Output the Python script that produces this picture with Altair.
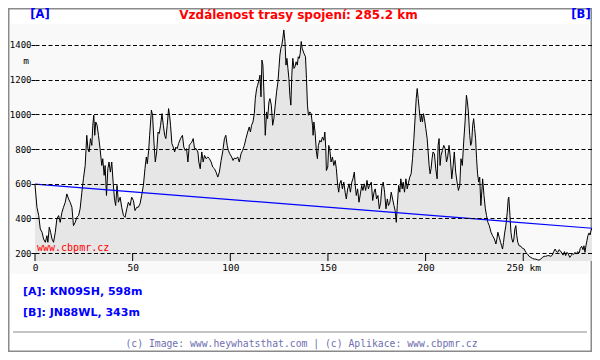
import altair as alt
import pandas as pd

# ---- profile data (km along path, elevation in m) ----
km_1 = [0, 1.0, 1.9, 2.7, 3.6, 4.4, 5.3, 6.1, 6.6, 7.3, 8.0, 8.7, 9.5, 10.4, 11.2, 12.1, 12.9, 13.8, 14.6, 15.5,
        16.3, 17.2, 18.0, 18.9, 19.7, 20.6, 21.4, 22.3, 23.1, 24.0, 24.8, 25.7, 26.5, 27.1, 27.7, 28.4, 29.1, 29.6,
        30.1, 30.6, 31.1, 31.8, 32.5, 33.3, 34.2, 34.7, 35.4, 35.9, 36.6, 37.3, 37.9, 38.6, 39.3, 40.0, 40.7, 41.3,
        42.0, 42.7, 43.6, 44.4, 45.3, 46.1, 47.0, 47.8, 48.7, 49.5, 50.4, 51.2, 52.1, 52.9, 53.8, 54.6, 55.5, 56.3, 57.0]
elev_1 = [593, 464, 416, 339, 320, 281, 262, 300, 262, 349, 320, 281, 262, 320, 397, 416, 377, 435, 464, 493,
          541, 512, 493, 464, 358, 377, 406, 416, 455, 551, 628, 705, 879, 802, 783, 860, 821, 937,
          995, 879, 956, 937, 879, 802, 705, 744, 648, 705, 532, 686, 725, 667, 725, 609, 512, 474,
          590, 493, 522, 464, 416, 406, 455, 493, 474, 522, 503, 445, 464, 464, 484, 532, 590, 686, 754]

km_2 = [57.5, 58.2, 58.7, 59.6, 60.2, 60.9, 61.6, 62.3, 63.0, 63.6, 64.3, 65.0, 65.7, 66.4, 67.0, 67.7, 68.4, 68.9,
        69.4, 70.1, 70.8, 71.5, 72.1, 72.8, 73.5, 74.5, 75.5, 76.2, 76.9, 77.6, 78.3, 79.0, 79.6, 80.3, 81.0, 81.7,
        82.5, 83.4, 83.9, 84.6, 85.4, 86.1, 86.8, 87.6, 88.5, 89.3, 90.2, 91.0, 91.9, 92.7, 93.6, 94.4, 95.3, 96.1,
        97.0, 97.7, 98.4, 99.0, 99.7, 100.7, 101.4, 102.1, 102.9, 103.8, 104.6, 105.5, 106.3, 107.2, 108.0, 108.9,
        109.7, 110.3, 110.9, 111.6, 112.3, 112.8, 113.5, 114.0, 114.7]
elev_2 = [715, 792, 879, 1024, 995, 840, 725, 783, 898, 889, 937, 1004, 937, 879, 860, 937, 1033, 995,
          937, 831, 811, 783, 811, 802, 831, 860, 879, 811, 792, 802, 725, 821, 831, 840, 860, 802,
          802, 783, 725, 686, 783, 725, 763, 744, 754, 744, 725, 696, 686, 667, 638, 667, 734, 783,
          860, 879, 821, 792, 773, 754, 734, 748, 744, 754, 725, 773, 792, 821, 860, 898,
          927, 898, 937, 956, 1004, 1091, 1149, 1168, 1197]

km_3 = [115.2, 115.7, 116.2, 116.7, 117.2, 117.9, 118.6, 119.1, 119.8, 120.3, 121.0, 121.7, 122.3, 123.0, 123.7,
        124.4, 124.9, 125.4, 125.9, 126.4, 126.9, 127.4, 128.0, 128.5, 129.0, 129.5, 130.0, 130.5, 131.0, 131.5,
        132.0, 132.6, 133.1, 133.7, 134.3, 134.8, 135.3, 135.8, 136.3, 136.8, 137.7, 138.5, 139.0, 139.5, 140.0,
        140.7, 141.4, 142.1, 142.4, 142.8, 143.4, 144.1, 144.6, 145.1, 145.8, 146.5, 147.2, 147.9, 148.4, 148.9,
        149.2, 149.9, 150.4, 150.9, 151.6, 152.3, 153.0, 153.7, 154.3, 155.0, 155.5, 156.0, 156.7, 157.4, 158.1,
        158.8, 159.4, 160.1, 160.8, 161.5, 162.2, 162.8, 163.5, 164.0, 164.5, 165.2, 165.9, 166.6, 167.3, 167.9,
        168.6, 169.3, 170.0, 170.7, 171.3]
elev_3 = [1226, 1101, 1313, 1284, 1130, 879, 1014, 975, 1072, 1091, 1053, 937, 975, 1053, 1130,
          1188, 1265, 1342, 1381, 1400, 1439, 1487, 1420, 1284, 1323, 1265, 1207, 1110, 1053, 1226,
          1323, 1265, 1274, 1303, 1284, 1332, 1323, 1352, 1420, 1381, 1352, 1332, 1207, 1053, 995,
          1014, 1004, 937, 879, 956, 898, 783, 744, 821, 850, 840, 869, 850, 898, 802,
          676, 696, 821, 802, 725, 754, 705, 734, 686, 590, 551, 599, 619, 570, 609,
          551, 512, 570, 599, 551, 609, 628, 667, 590, 532, 570, 493, 541, 590, 561,
          599, 561, 619, 570, 590]

km_4 = [172.2, 172.9, 173.6, 174.2, 174.9, 175.6, 176.3, 177.0, 177.6, 178.3, 179.0, 179.7, 180.4, 181.0, 181.7,
        182.4, 183.1, 183.8, 184.4, 185.0, 185.5, 186.2, 186.8, 187.3, 188.0, 188.5, 189.2, 189.9, 190.6, 191.3,
        191.9, 192.6, 193.3, 194.0, 194.7, 195.2, 195.7, 196.2, 196.7, 197.4, 197.9, 198.4, 198.9, 199.4, 200.1,
        200.8, 201.3, 201.8, 202.3, 202.8, 203.3, 203.8, 204.5, 205.2, 205.9, 206.4, 206.9, 207.4, 207.9, 208.6,
        209.3, 210.0, 210.7, 211.3, 212.0, 212.7, 213.4, 214.1, 214.7, 215.4, 216.1, 216.8, 217.5, 218.1, 218.8,
        219.5, 220.2, 220.9, 221.4, 221.9, 222.6, 223.1, 223.6, 224.1, 224.6, 225.1, 225.6, 226.1, 226.6, 227.2,
        227.7, 228.3]
elev_4 = [609, 503, 551, 570, 512, 532, 455, 493, 580, 609, 551, 455, 512, 474, 493,
          551, 512, 474, 445, 377, 474, 590, 551, 628, 570, 609, 551, 628, 570, 609,
          638, 657, 744, 860, 995, 1091, 1149, 1091, 1033, 956, 995, 956, 1004, 975, 918,
          860, 783, 705, 657, 686, 744, 783, 773, 686, 628, 821, 860, 705, 763, 792,
          821, 802, 725, 754, 821, 744, 628, 705, 783, 667, 609, 561, 590, 744, 705,
          840, 956, 1110, 1072, 1014, 879, 821, 840, 937, 975, 918, 860, 744, 657, 609,
          638, 474]

km_5 = [229.2, 229.9, 230.6, 231.2, 231.9, 232.6, 233.5, 234.3, 235.2, 236.0, 236.5, 237.0, 237.7, 238.4, 238.9,
        239.4, 239.9, 240.4, 241.1, 241.8, 242.3, 242.6, 243.2, 243.7, 244.2, 244.7, 245.2, 245.7, 246.2, 246.7,
        247.2, 247.9, 248.8, 249.6, 250.5, 251.3, 252.2, 253.0, 253.9, 254.7, 255.6, 256.4, 257.3, 258.1, 259.0,
        259.8, 260.7, 261.5, 262.4, 263.2, 264.1, 264.9, 265.6, 266.3, 267.0, 267.7, 268.3, 269.0, 269.7, 270.4,
        271.1, 271.7, 272.4, 273.1, 273.8, 274.5, 275.1, 275.8, 276.5, 277.2, 277.9, 278.6, 279.2, 279.9, 280.6,
        281.1, 281.6, 282.1, 282.6, 283.1, 283.7, 284.2, 284.7, 285.2]
elev_5 = [628, 532, 455, 416, 377, 358, 320, 300, 281, 252, 281, 320, 291, 262, 242,
          223, 262, 310, 358, 435, 512, 522, 416, 320, 281, 262, 281, 339, 358, 300,
          262, 242, 239, 227, 223, 204, 194, 181, 175, 169, 165, 165, 161, 159, 165,
          175, 181, 181, 185, 185, 181, 188, 208, 223, 208, 204, 219, 213, 200, 188,
          208, 185, 204, 194, 175, 185, 196, 192, 204, 194, 208, 200, 227, 239, 219,
          242, 204, 242, 271, 300, 316, 304, 329, 343]

# line of sight between the two stations
sight_km = [0, 285.2]
sight_elev = [598, 343]

x_ticks = [0, 50, 100, 150, 200, 250]
y_ticks = [200, 400, 600, 800, 1000, 1200, 1400]
x_domain = [0, 285.2]
y_domain = [154, 1498]

title_text = "Vzdálenost trasy spojení: 285.2 km"
info_a = "[A]: KN09SH, 598m"
info_b = "[B]: JN88WL, 343m"
footer_text = "(c) Image: www.heywhatsthat.com | (c) Aplikace: www.cbpmr.cz"
watermark = "www.cbpmr.cz"

profile = pd.DataFrame({"km": km_1 + km_2 + km_3 + km_4 + km_5,
                        "elev": elev_1 + elev_2 + elev_3 + elev_4 + elev_5})
sight = pd.DataFrame({"km": sight_km, "elev": sight_elev})
ticks_df = pd.DataFrame({"km": x_ticks})
one = pd.DataFrame({"v": [0]})

W, H = 557, 233
MONO = "DejaVu Sans Mono"
SANS = "DejaVu Sans"

xscale = alt.Scale(domain=x_domain, nice=False, zero=False)
yscale = alt.Scale(domain=y_domain, nice=False, zero=False)

x_axis = alt.Axis(values=x_ticks, title=None, grid=False, ticks=False, tickSize=0, domain=False,
                  labelPadding=1, labelFont=MONO, labelFontSize=9.5, labelColor="black",
                  labelFlush=False, labelOverlap=False, zindex=1, format="d",
                  labelExpr="datum.value == 250 ? '250 km' : datum.label")
y_axis = alt.Axis(values=y_ticks, title=None, grid=True, gridDash=[4, 2.5], gridColor="black",
                  gridOpacity=1, gridWidth=1, ticks=True, tickSize=4, tickColor="black",
                  domain=False, labelPadding=0, labelFont=MONO, labelFontSize=9, format="d",
                  labelColor="black", zindex=1)

X = alt.X("km:Q", scale=xscale, axis=x_axis)
Y = alt.Y("elev:Q", scale=yscale, axis=y_axis, stack=None)


def txt(text, x, y, color, size, font, weight="normal", align="left"):
    return alt.Chart(one).mark_text(
        text=text, color=color, fontSize=size, font=font, fontWeight=weight,
        align=align, baseline="middle"
    ).encode(x=alt.value(x), y=alt.value(y))


frame = alt.Chart(one).mark_rect(fill="white", stroke="#8a8a8a", strokeWidth=1.5).encode(
    x=alt.value(-26.25), x2=alt.value(556.25), y=alt.value(-19.25), y2=alt.value(323.25))
panel = alt.Chart(one).mark_rect(fill="#f9f9f9").encode(
    x=alt.value(-25), x2=alt.value(554), y=alt.value(-4), y2=alt.value(246))

area = alt.Chart(profile).mark_area(color="#e6e6e6").encode(x=X, y=Y, y2=alt.value(H))
line = alt.Chart(profile).mark_line(color="black", strokeWidth=1).encode(x=X, y=Y)
los = alt.Chart(sight).mark_line(color="#0000ff", strokeWidth=1.2).encode(x=X, y=Y)
xticks = alt.Chart(ticks_df).mark_rule(color="black", strokeWidth=1).encode(
    x=X, y=alt.value(H - 8), y2=alt.value(H))

sep = alt.Chart(one).mark_rule(color="#8a8a8a", strokeWidth=1).encode(
    x=alt.value(-22), x2=alt.value(552), y=alt.value(304))

chart = alt.layer(
    frame, panel, area, line, los, xticks, sep,
    txt(title_text, 263.5, -13.5, "#ff0000", 12, SANS, "bold", "center"),
    txt("[A]", 5, -13.5, "#0000ff", 11.5, SANS, "bold", "center"),
    txt("[B]", 546, -13.5, "#0000ff", 11.5, SANS, "bold", "center"),
    txt("m", -9, 33, "black", 9.5, MONO, "normal", "center"),
    txt(watermark, 2, 219.5, "#ff0000", 10, MONO, "normal", "left"),
    txt(info_a, -12, 264, "#0000ff", 11, SANS, "bold", "left"),
    txt(info_b, -12, 284.5, "#0000ff", 11, SANS, "bold", "left"),
    txt(footer_text, 266.5, 316, "#6f6fb0", 9.75, MONO, "normal", "center"),
).properties(
    width=W, height=H,
    autosize=alt.AutoSizeParams(type="none"),
    padding={"left": 27, "top": 20, "right": 0, "bottom": 91},
    background="white",
).configure_view(stroke=None)

chart.save("out.html", embed_options={"renderer": "svg", "actions": False})
